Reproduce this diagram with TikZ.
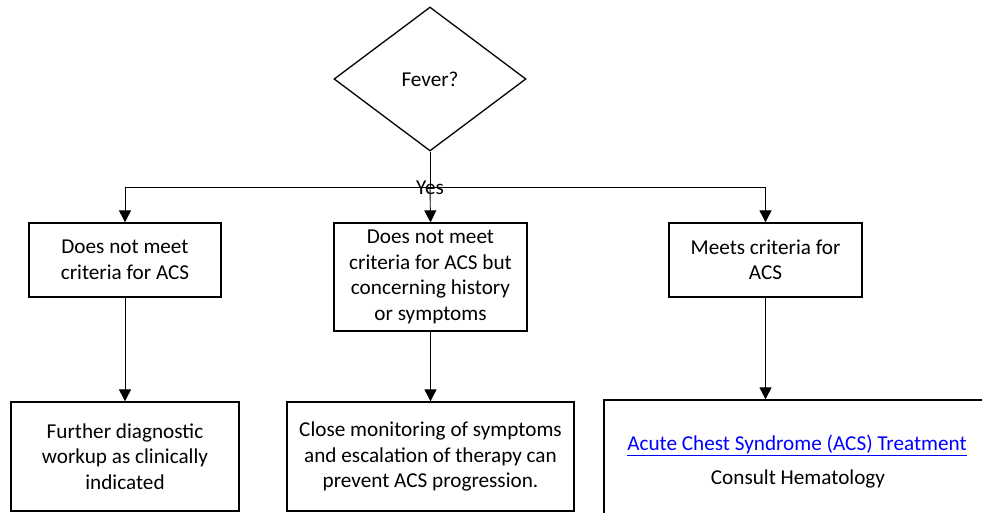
\documentclass[tikz,border=0pt]{standalone}
\usepackage{fontspec}
\setmainfont{Carlito}
\usetikzlibrary{shapes.geometric,arrows.meta}
\definecolor{linkblue}{RGB}{0,0,255}
\begin{document}
\begin{tikzpicture}[x=1pt,y=-1pt,
  txt/.style={font=\fontsize{21.2}{25.5}\selectfont, align=center},
  box/.style={txt, draw, line width=1.3pt, inner sep=0pt},
  conn/.style={line width=0.9pt, -{Triangle[length=12pt,width=12pt]}},
  plain/.style={line width=0.9pt}
]
\clip (0,0) rectangle (982,512);
\node[draw, diamond, line width=1.3pt, minimum width=192pt, minimum height=144pt, inner sep=0pt, txt] (fever) at (430,79) {Fever?};
\node[box, minimum width=192pt, minimum height=74pt] (b1) at (125,260) {Does not meet\\criteria for ACS};
\node[box, minimum width=193pt, minimum height=108pt] (b2) at (430.5,277) {Does not meet\\criteria for ACS but\\concerning history\\or symptoms};
\node[box, minimum width=193pt, minimum height=74pt] (b3) at (765.5,260) {Meets criteria for\\ACS};
\node[box, minimum width=228pt, minimum height=109pt] (c1) at (125,456.5) {Further diagnostic\\workup as clinically\\indicated};
\node[box, minimum width=287pt, minimum height=109pt] (c2) at (430.5,456.5) {Close monitoring of symptoms\\and escalation of therapy can\\prevent ACS progression.};
\node[draw, line width=1.3pt, minimum width=396pt, minimum height=130pt, inner sep=0pt] (c3) at (802,465) {};
\node[txt, text=linkblue] (link) at (797,445) {\underline{Acute Chest Syndrome (ACS) Treatment}};
\node[txt] (consult) at (798,479) {Consult Hematology};
\coordinate (split) at (430,187);
\draw[plain] (fever.south) -- (split);
\draw[plain] (b1.north |- split) -- (b3.north |- split);
\draw[conn] (b1.north |- split) -- (b1.north);
\draw[conn] (split) -- (b2.north);
\draw[conn] (b3.north |- split) -- (b3.north);
\draw[conn] (b1.south) -- (b1.south |- c1.north);
\draw[conn] (b2.south) -- (b2.south |- c2.north);
\draw[conn] (b3.south) -- (b3.south |- c3.north);
\node[txt] (yes) at (430,188) {Yes};
\end{tikzpicture}
\end{document}
